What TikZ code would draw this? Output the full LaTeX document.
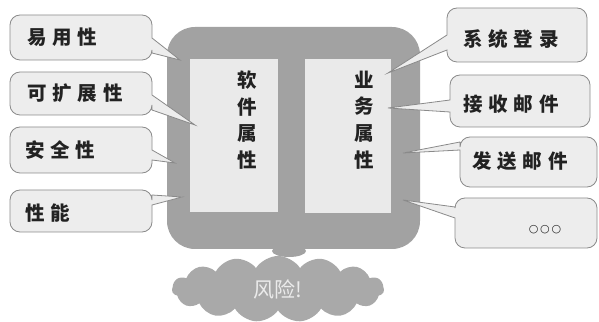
\documentclass[tikz,border=0pt]{standalone}
\usepackage{fontspec}
\usetikzlibrary{shapes.symbols}
\newfontfamily\cjk[LetterSpace=30]{Noto Sans CJK SC}
\newfontfamily\cjkplain{Noto Sans CJK SC}
\newfontfamily\dejavu{DejaVu Sans}
\definecolor{framegray}{HTML}{A2A2A2}
\definecolor{panelgray}{HTML}{EAEAEA}
\definecolor{callfill}{HTML}{EDEDED}
\definecolor{callline}{HTML}{8A8A8A}
\definecolor{cloudgray}{HTML}{A9A9A9}
\definecolor{inkgray}{HTML}{222222}
\newcommand\lcall[8]{%
  \path[callout] (#1+10,#3) -- (#2-10,#3) arc[start angle=90,end angle=0,radius=10pt]
    -- (#2,#5) -- (#7,#8) -- (#2,#6)
    -- (#2,#4+10) arc[start angle=0,end angle=-90,radius=10pt]
    -- (#1+10,#4) arc[start angle=270,end angle=180,radius=10pt]
    -- (#1,#3-10) arc[start angle=180,end angle=90,radius=10pt] -- cycle;}
\newcommand\rcall[8]{%
  \path[callout] (#1+10,#3) -- (#2-10,#3) arc[start angle=90,end angle=0,radius=10pt]
    -- (#2,#4+10) arc[start angle=0,end angle=-90,radius=10pt]
    -- (#1+10,#4) arc[start angle=270,end angle=180,radius=10pt]
    -- (#1,#6) -- (#7,#8) -- (#1,#5)
    -- (#1,#3-10) arc[start angle=180,end angle=90,radius=10pt] -- cycle;}
\begin{document}
\begin{tikzpicture}[x=1pt,y=1pt,
  callout/.style={fill=callfill,draw=callline,line width=0.8pt},
  calltext/.style={anchor=west,inner sep=0pt,text=inkgray,font=\cjk\bfseries\fontsize{19.5}{19.5}\selectfont},
  vtext/.style={align=center,inner sep=0pt,text=inkgray,font=\cjkplain\bfseries\fontsize{19.5}{26.7}\selectfont}]
\useasboundingbox (0,0) rectangle (599,321);
% frame
\fill[framegray] (289,70) ellipse[x radius=17pt,y radius=6pt];
\fill[framegray,rounded corners=28pt] (167,72) rectangle (420,294);
\fill[panelgray] (190,109) rectangle (278,262);
\fill[panelgray] (305,108) rectangle (391,262);
\node[vtext] (soft) at (247,201) {软\\件\\属\\性};
\node[vtext] (biz) at (364,201) {业\\务\\属\\性};
% cloud
\node[cloud,cloud puffs=15,cloud puff arc=115,aspect=3.4,fill=cloudgray,
  minimum width=212pt,minimum height=66pt,inner sep=0pt,
  text=white!92!black,font=\cjkplain\fontsize{21}{21}\selectfont] (risk) at (278,32) {风险!};
% left callouts
\lcall{10}{152}{306}{261}{283}{268}{180}{261}
\lcall{10}{152}{249}{206}{226}{211}{195}{196}
\lcall{10}{152}{194}{148}{171}{161}{175}{158}
\lcall{10}{152}{131}{89}{126}{116}{182}{124}
\node[calltext] (ease) at (27,284) {易用性};
\node[calltext] (ext) at (27,228) {可扩展性};
\node[calltext] (sec) at (25,171) {安全性};
\node[calltext] (perf) at (25,108) {性能};
% right callouts
\rcall{447}{587}{313}{259}{286}{271}{388}{248}
\rcall{450}{590}{246}{194}{221}{209}{388}{213}
\rcall{460}{597}{184}{134}{179}{171}{403}{168}
\rcall{455}{597}{123}{73}{114}{103}{403}{121}
\node[calltext] (login) at (463,282) {系统登录};
\node[calltext] (recv) at (463,217) {接收邮件};
\node[calltext] (send) at (472,160) {发送邮件};
\node[inner sep=0pt,text=inkgray,font=\dejavu\fontsize{11}{11}\selectfont] (more) at (545,91) {○\,○\,○};
\end{tikzpicture}
\end{document}
